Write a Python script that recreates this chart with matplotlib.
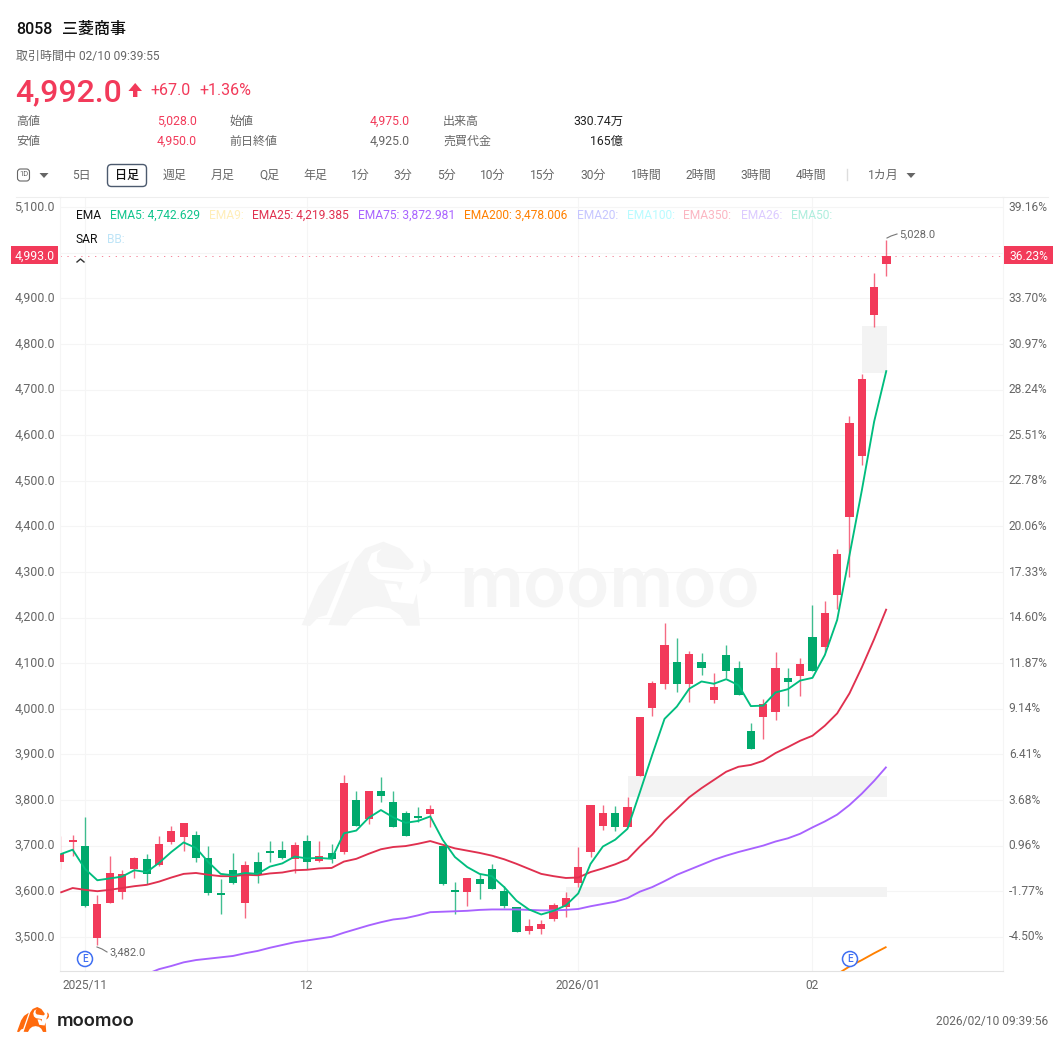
import numpy as np
import matplotlib
matplotlib.use("Agg")
import matplotlib.pyplot as plt
from matplotlib.patches import FancyBboxPatch, Polygon, Rectangle, Circle

# 日足データ
opens = [3664, 3709, 3700, 3498, 3575, 3598, 3649, 3670, 3657, 3709, 3718, 3724, 3673, 3593, 3646, 3574, 3665,
         3687, 3691, 3670, 3710, 3667, 3684, 3687, 3801, 3758, 3819, 3795, 3771, 3766, 3769, 3700, 3602, 3599,
         3627, 3649, 3600, 3565, 3512, 3518, 3538, 3565, 3619, 3687, 3744, 3771, 3740, 3853, 4001, 4055, 4102,
         4055, 4102, 4020, 4118, 4089, 3952, 3981, 3992, 4068, 4071, 4157, 4135, 4250, 4420, 4555, 4863, 4975]
closes = [3682, 3713, 3567, 3573, 3639, 3637, 3672, 3637, 3704, 3731, 3750, 3672, 3595, 3591, 3617, 3658, 3635,
          3684, 3673, 3702, 3665, 3678, 3670, 3838, 3742, 3819, 3809, 3740, 3720, 3761, 3780, 3616, 3599, 3629,
          3616, 3604, 3567, 3511, 3523, 3529, 3569, 3586, 3653, 3789, 3771, 3740, 3784, 3981, 4057, 4140, 4055,
          4120, 4090, 4048, 4083, 4031, 3911, 4010, 4090, 4058, 4098, 4082, 4211, 4339, 4626, 4724, 4926, 4993]
highs = [3720, 3724, 3762, 3591, 3678, 3646, 3676, 3682, 3722, 3743, 3750, 3731, 3700, 3626, 3684, 3667, 3687,
         3711, 3711, 3709, 3724, 3710, 3704, 3855, 3820, 3819, 3851, 3820, 3777, 3784, 3790, 3700, 3620, 3629,
         3638, 3659, 3611, 3565, 3540, 3536, 3575, 3598, 3697, 3789, 3789, 3786, 3806, 3981, 4060, 4188, 4155,
         4127, 4122, 4078, 4140, 4106, 3970, 4022, 4125, 4090, 4112, 4228, 4237, 4350, 4643, 4734, 4956, 5028]
lows = [3649, 3678, 3565, 3482, 3575, 3584, 3629, 3615, 3655, 3704, 3688, 3665, 3592, 3551, 3615, 3542, 3618,
        3664, 3671, 3640, 3649, 3664, 3662, 3682, 3742, 3748, 3795, 3740, 3720, 3751, 3740, 3613, 3550, 3568,
        3584, 3604, 3563, 3511, 3506, 3507, 3535, 3544, 3609, 3676, 3735, 3731, 3740, 3853, 3985, 4044, 4036,
        4016, 4074, 4012, 4067, 4031, 3911, 3933, 3976, 4007, 4028, 4082, 4124, 4220, 4289, 4535, 4838, 4950]

ema5 = [3681, 3691, 3649, 3624, 3628, 3632, 3646, 3642, 3662, 3686, 3707, 3695, 3664, 3638, 3635, 3640, 3638,
        3654, 3661, 3676, 3672, 3673, 3671, 3727, 3733, 3761, 3778, 3762, 3750, 3754, 3764, 3713, 3675, 3653,
        3638, 3633, 3609, 3579, 3560, 3549, 3557, 3569, 3595, 3660, 3698, 3713, 3737, 3817, 3899, 3978, 4005,
        4044, 4060, 4055, 4065, 4052, 4006, 4007, 4036, 4043, 4062, 4068, 4118, 4195, 4337, 4479, 4630, 4742.629]
ema25 = [3597, 3607, 3603, 3600, 3603, 3607, 3611, 3614, 3621, 3630, 3638, 3640, 3636, 3633, 3633, 3636, 3635,
         3639, 3641, 3646, 3647, 3650, 3651, 3665, 3671, 3682, 3692, 3697, 3699, 3704, 3710, 3702, 3694, 3689,
         3684, 3678, 3670, 3660, 3649, 3638, 3633, 3629, 3630, 3642, 3650, 3659, 3670, 3698, 3724, 3755, 3780,
         3806, 3826, 3844, 3862, 3873, 3877, 3886, 3903, 3916, 3930, 3941, 3963, 3990, 4034, 4091, 4153, 4219.385]
# 75日線と200日線は左側が表示範囲の外
ema75 = [np.nan] * 7 + [3418, 3429, 3436, 3444, 3449, 3452, 3455, 3458, 3464, 3469, 3476, 3482, 3488, 3492, 3496,
         3500, 3509, 3517, 3525, 3532, 3538, 3541, 3547, 3554, 3555, 3556, 3557, 3559, 3560, 3560, 3560, 3559,
         3558, 3558, 3559, 3561, 3567, 3572, 3577, 3585, 3599, 3609, 3622, 3636, 3647, 3658, 3669, 3678, 3686,
         3693, 3700, 3709, 3716, 3726, 3740, 3753, 3768, 3789, 3814, 3842, 3872.981]
ema200 = [np.nan] * 63 + [3418, 3435, 3449, 3464, 3478.006]

# 窓 (開始足, 下限, 上限)
gap_starts = [41, 46.0, 65]
gap_lows = [3588, 3807, 4737]
gap_highs = [3610, 3852, 4840]

y_ticks = [5100, 5000, 4900, 4800, 4700, 4600, 4500, 4400, 4300, 4200, 4100, 4000, 3900, 3800, 3700, 3600, 3500]
y_labels = ["5,100.0", "", "4,900.0", "4,800.0", "4,700.0", "4,600.0", "4,500.0", "4,400.0", "4,300.0", "4,200.0",
            "4,100.0", "4,000.0", "3,900.0", "3,800.0", "3,700.0", "3,600.0", "3,500.0"]
pct_labels = ["39.16%", "", "33.70%", "30.97%", "28.24%", "25.51%", "22.78%", "20.06%", "17.33%", "14.60%",
              "11.87%", "9.14%", "6.41%", "3.68%", "0.96%", "-1.77%", "-4.50%"]
date_pos = [2, 20, 42, 61]
date_labels = ["2025/11", "12", "2026/01", "02"]

RED = "#f23a5a"
GREEN = "#00a96c"
GRAY = "#666666"
FONT = ["Roboto", "Noto Sans CJK JP", "DejaVu Sans"]
plt.rcParams["font.family"] = FONT


def pt(px):
    # 100dpi での px -> pt
    return px * 0.72


fig = plt.figure(figsize=(10.64, 10.47), dpi=100, facecolor="white")
ax = fig.add_axes([60 / 1064, 1 - 971 / 1047, 943 / 1064, 774 / 1047])
ax.set_xlim(-0.027, 76.45)
ax.set_ylim(3425, 5122.6)
ax.set_facecolor("white")
ax.set_axisbelow(True)

ax.set_yticks(y_ticks)
ax.set_yticklabels(y_labels)
ax.set_xticks(date_pos)
ax.set_xticklabels(date_labels)
ax.tick_params(length=0, labelsize=pt(12), labelcolor=GRAY)
ax.tick_params(axis="y", pad=3.6, labelsize=pt(12.4))
ax.tick_params(axis="x", pad=6)
ax.grid(True, color="#f5f5f5", lw=0.8)
for name, col in [("top", "#eeeeee"), ("bottom", "#e2e2e2"), ("left", "#f5f5f5"), ("right", "#f5f5f5")]:
    ax.spines[name].set_color(col)
    ax.spines[name].set_linewidth(0.8)
for label in ax.get_yticklabels():
    label.set_va("center")

right = ax.twinx()
right.set_ylim(ax.get_ylim())
right.set_yticks(y_ticks)
right.set_yticklabels(pct_labels)
right.tick_params(length=0, labelsize=pt(12), labelcolor=GRAY, pad=4.2)
for s in right.spines.values():
    s.set_visible(False)
for label in right.get_yticklabels():
    label.set_va("center")

# 窓
for start, lo, hi in zip(gap_starts, gap_lows, gap_highs):
    ax.add_patch(Rectangle((start, lo), 67.03 - start, hi - lo, color="#f3f3f3", lw=0, zorder=1))

# ローソク足
x = np.arange(len(opens))
o = np.array(opens, dtype=float)
c = np.array(closes, dtype=float)
colors = [RED if b >= a else GREEN for a, b in zip(o, c)]
ax.vlines(x, lows, highs, colors=colors, lw=1.0, alpha=0.75, zorder=2)
ax.bar(x, np.maximum(np.abs(c - o), 4), bottom=np.minimum(o, c), width=0.66, color=colors, lw=0, zorder=3)

# 移動平均線
ax.plot(x, ema200, color="#ff8000", lw=1.35, zorder=4, solid_capstyle="butt")
ax.plot(x, ema75, color="#a862ff", lw=1.35, zorder=4, solid_capstyle="butt")
ax.plot(x, ema25, color="#e0304f", lw=1.35, zorder=4, solid_capstyle="butt")
ax.plot(x, ema5, color="#00bd7e", lw=1.35, zorder=5, solid_capstyle="butt")

# 現在値の点線
ax.axhline(closes[-1], color="#f58a9e", lw=0.72, dashes=(1.3, 5.6), zorder=2)

# ここからはピクセル座標のオーバーレイ
ov = fig.add_axes([0, 0, 1, 1], zorder=10)
ov.set_xlim(0, 1064)
ov.set_ylim(1047, 0)
ov.axis("off")


def txt(x0, y0, s, size=12, color=GRAY, ha="left", weight="normal"):
    ov.text(x0, y0 + 1, s, fontsize=pt(size), color=color, ha=ha, va="center", fontweight=weight)


BULL_MAIN = [(115, 285), (195, 90), (225, 55), (280, 35), (330, 55), (370, 100), (370, 112), (355, 120), (275, 110),
             (260, 95), (262, 70), (275, 57), (245, 70), (232, 100), (240, 130), (265, 148), (338, 157), (330, 182),
             (320, 162), (283, 160), (305, 215), (370, 222), (380, 190), (390, 287), (350, 287), (330, 255),
             (300, 235), (260, 228), (220, 235), (190, 255), (168, 287)]
BULL_LEFT = [(35, 285), (85, 170), (120, 125), (178, 92), (110, 255), (85, 262), (60, 288)]
BULL_HORN = [(400, 88), (420, 105), (423, 130), (410, 150), (388, 162), (405, 120)]


def bull(ox, oy, sx, sy, color, z=1):
    for shape in (BULL_MAIN, BULL_LEFT, BULL_HORN):
        pts = [(ox + a * sx, oy + b * sy) for a, b in shape]
        ov.add_patch(Polygon(pts, closed=True, color=color, lw=0, zorder=z))


# 透かし
bull(290, 530, 1 / 3, 1 / 3, "#f5f5f5")
ov.text(610, 588, "moomoo", fontsize=pt(71), color="#f5f5f5", ha="center", va="center", fontweight="semibold",
        family=["Inter", "DejaVu Sans"], zorder=1)

# ヘッダー上の区切り線
ov.plot([16, 60], [197, 197], color="#eeeeee", lw=0.8)
ov.plot([1003, 1048], [197, 197], color="#eeeeee", lw=0.8)

# ヘッダー
txt(16, 28, "8058", 16, "#111111", weight="medium")
txt(62, 28, "三菱商事", 16, "#111111", weight="medium")
txt(16, 55, "取引時間中 02/10 09:39:55", 12)
txt(15.5, 92, "4,992.0", 32, RED, weight="medium")
ov.add_patch(Polygon([(135.2, 83), (142, 91), (137.4, 91), (137.4, 97), (133, 97), (133, 91), (128.4, 91)],
                     closed=True, color=RED, lw=0))
txt(150, 89.5, "+67.0", 16, RED)
txt(199.5, 89.5, "+1.36%", 16, RED)

txt(16, 120.5, "高値")
txt(197, 120.5, "5,028.0", 12.3, RED, ha="right")
txt(229, 120.5, "始値")
txt(410, 120.5, "4,975.0", 12.3, RED, ha="right")
txt(443, 120.5, "出来高")
txt(623, 120.5, "330.74万", 12.3, "#222222", ha="right")
txt(16, 140.5, "安値")
txt(197, 140.5, "4,950.0", 12.3, RED, ha="right")
txt(229, 140.5, "前日終値")
txt(410, 140.5, "4,925.0", 12.3, ha="right")
txt(443, 140.5, "売買代金")
txt(623, 140.5, "165億", 12.3, "#222222", ha="right")

# ツールバー
ov.add_patch(FancyBboxPatch((17.5, 169), 12, 12, boxstyle="round,pad=0,rounding_size=3", fc="white", ec="#666666", lw=0.8))
txt(23.5, 174, "1D", 7.5, ha="center")
ov.add_patch(Polygon([(39.5, 173), (48.5, 173), (44, 178)], closed=True, color="#666666", lw=0))
ov.add_patch(FancyBboxPatch((107.5, 164.5), 39, 22, boxstyle="round,pad=0,rounding_size=4", fc="white", ec="#4c5a6e", lw=1))
tool_labels = ["5日", "日足", "週足", "月足", "Q足", "年足", "1分", "3分", "5分", "10分", "15分", "30分",
               "1時間", "2時間", "3時間", "4時間", "1カ月"]
tool_pos = [81, 127, 175, 223, 269, 315, 360, 403, 446, 493, 543, 593, 646, 701, 756, 811, 883]
for t, p in zip(tool_labels, tool_pos):
    txt(p, 174.5, t, 12, "#111111" if t == "日足" else GRAY, ha="center", weight="medium" if t == "日足" else "normal")
ov.plot([846.5, 846.5], [169, 180], color="#dddddd", lw=1)
ov.add_patch(Polygon([(906.5, 173), (915.5, 173), (911, 178)], closed=True, color="#666666", lw=0))

# 凡例
legend_items = [(76, "EMA", "#111111"), (110, "EMA5: 4,742.629", "#10c48c"), (209, "EMA9:", "#ffeeb8"),
                (252, "EMA25: 4,219.385", "#e0304f"), (358, "EMA75: 3,872.981", "#a862ff"),
                (464, "EMA200: 3,478.006", "#ff8000"), (576.5, "EMA20:", "#c6c6ff"), (627, "EMA100:", "#b8fbff"),
                (683, "EMA350:", "#fbb6c2"), (741, "EMA26:", "#dccbff"), (790.5, "EMA50:", "#aeeedd")]
for lx, t, col in legend_items:
    txt(lx, 214.5, t, 12, col)
txt(76, 238.5, "SAR", 12, "#111111")
txt(107, 238.5, "BB:", 12, "#bde4f7")
ov.plot([77, 80.5, 84], [262, 259, 262], color="#333333", lw=1)

# 価格タグ
ov.add_patch(Rectangle((11, 246), 47, 18, color=RED, lw=0))
txt(55, 255, "4,993.0", 12.3, "white", ha="right")
ov.add_patch(Rectangle((1004, 246), 49, 18, color=RED, lw=0))
txt(1009, 255, "36.23%", 12, "white")

# 高値・安値の注記
ov.plot([887, 891, 897], [238, 236, 234], color="#777777", lw=0.8)
txt(899, 233, "5,028.0", 11)
ov.plot([97, 102, 107], [947, 949, 952], color="#777777", lw=0.8)
txt(109, 951, "3,482.0", 11)

# 決算マーク
for ex in [85, 850]:
    ov.add_patch(Circle((ex, 959), 7.5, fc="white", ec="#3f6ff2", lw=1.1, zorder=6))
    ov.text(ex, 959, "E", fontsize=pt(10), color="#3f6ff2", ha="center", va="center", fontweight="medium", zorder=7)

# フッター
bull(17 - 35 * 0.0825, 1007 - 35 * 0.099, 0.0825, 0.099, "#ff6a0d")
ov.text(57, 1021, "moomoo", fontsize=pt(18.4), color="#222222", ha="left", va="center", fontweight="semibold",
        family=["Inter", "DejaVu Sans"])
txt(1048, 1020, "2026/02/10 09:39:56", 12, ha="right")

fig.savefig("out.png", dpi=100)
